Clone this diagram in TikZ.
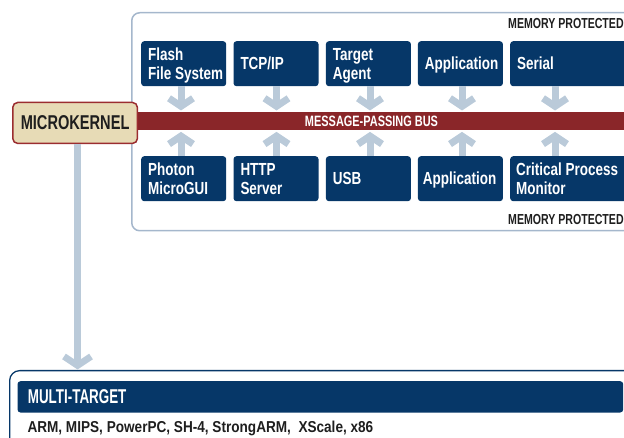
\documentclass[tikz,border=0pt]{standalone}
\usepackage{fontspec}
\usetikzlibrary{arrows.meta}

% Condensed bold sans faces at a few widths
\newfontfamily\cndNarrow{Liberation Sans}[FakeStretch=0.67]
\newfontfamily\cndHead{Liberation Sans}[FakeStretch=0.73]
\newfontfamily\cndBox{Liberation Sans}[FakeStretch=0.77]
\newfontfamily\cndWide{Liberation Sans}[FakeStretch=0.86]

\definecolor{qnavy}{RGB}{6,55,104}
\definecolor{qbus}{RGB}{138,38,41}
\definecolor{qbeige}{RGB}{231,219,182}
\definecolor{qkernelrim}{RGB}{155,45,48}
\definecolor{qflow}{RGB}{186,202,217}
\definecolor{qframe}{RGB}{165,183,204}
\definecolor{qink}{RGB}{30,30,30}

\tikzset{
  svc/.style={rectangle, rounded corners=3pt, fill=qnavy,
    minimum width=85pt, minimum height=45pt, inner sep=0pt,
    anchor=north west},
  svcwide/.style={svc, minimum width=130pt},
  svclabel/.style={text=white,
    font=\cndBox\bfseries\fontsize{17.5}{19.3}\selectfont,
    inner sep=0pt, text height=12.6pt, text depth=0pt, align=left,
    anchor=west},
  svclabeltwo/.style={svclabel, text height=31.9pt},
  flow/.style={draw=qflow, line width=7pt,
    -{Straight Barb[length=8pt,width=24pt]}, shorten >=1.5pt},
  memlabel/.style={font=\cndHead\bfseries\fontsize{14.5}{16}\selectfont,
    text=qink, anchor=base west, inner sep=0pt},
}

\begin{document}
\begin{tikzpicture}[x=1pt,y=-1pt]
\useasboundingbox (0,0) rectangle (624,438);
\clip (0,0) rectangle (624,438);

% memory-protected region
\node[draw=qframe, line width=1.5pt, rounded corners=8pt, anchor=north west,
  minimum width=640pt, minimum height=218pt, inner sep=0pt] (mem) at (131,12) {};
\node[memlabel] (memtop) at (508,29) {MEMORY PROTECTED};
\node[memlabel] (membot) at (508,225) {MEMORY PROTECTED};

% message-passing bus
\node[fill=qbus, anchor=north west, minimum width=600pt, minimum height=18pt,
  inner sep=0pt] (bus) at (136,112) {};
\node[font=\cndHead\bfseries\fontsize{15}{16}\selectfont, text=white,
  anchor=base, inner sep=0pt] (buslabel) at (371.5,126.7) {MESSAGE-PASSING BUS};

% microkernel
\node[draw=qkernelrim, line width=1.5pt, fill=qbeige, rounded corners=5pt,
  anchor=north west, minimum width=124.7pt, minimum height=41pt, inner sep=0pt,
  font=\cndHead\bfseries\fontsize{20}{22}\selectfont, text=qink] (mk) at (12,101.7) {MICROKERNEL};

% services above the bus
\node[svc] (t1) at (141,41) {};
\node[svc] (t2) at (233.3,41) {};
\node[svc] (t3) at (325.7,41) {};
\node[svc] (t4) at (417.7,41) {};
\node[svcwide] (t5) at (510,41) {};
\node[svclabeltwo] (t1l) at ([xshift=7pt]t1.west) {Flash\\File System};
\node[svclabel] (t2l) at ([xshift=7pt]t2.west) {TCP/IP};
\node[svclabeltwo] (t3l) at ([xshift=7pt]t3.west) {Target\\Agent};
\node[svclabel] (t4l) at ([xshift=7pt]t4.west) {Application};
\node[svclabel] (t5l) at ([xshift=7pt]t5.west) {Serial};

% services below the bus
\node[svc] (b1) at (141,156) {};
\node[svc] (b2) at (233.3,156) {};
\node[svc] (b3) at (325.7,156) {};
\node[svc] (b4) at (417.7,156) {};
\node[svcwide] (b5) at (510,156) {};
\node[svclabeltwo] (b1l) at ([xshift=7pt]b1.west) {Photon\\MicroGUI};
\node[svclabeltwo] (b2l) at ([xshift=7pt]b2.west) {HTTP\\Server};
\node[svclabel] (b3l) at ([xshift=7pt]b3.west) {USB};
\node[svclabel] (b4l) at ([xshift=5pt]b4.west) {Application};
\node[svclabeltwo] (b5l) at ([xshift=6pt]b5.west) {Critical Process\\Monitor};

% arrow columns
\coordinate (a1) at (181,0);
\coordinate (a2) at (276.5,0);
\coordinate (a3) at (370,0);
\coordinate (a4) at (462,0);
\coordinate (a5) at (555,0);
\coordinate (ak) at (77.5,0);

\foreach \i in {1,...,5} {
  \draw[flow] (t\i.south -| a\i) -- (bus.north -| a\i);
  \draw[flow] (b\i.north -| a\i) -- (bus.south -| a\i);
}

% multi-target region
\node[draw=qnavy, line width=1.3pt, rounded corners=10pt, anchor=north west,
  minimum width=700pt, minimum height=120pt, inner sep=0pt] (mt) at (9,370) {};
\node[fill=qnavy, rounded corners=3pt, anchor=north west, minimum width=605.7pt,
  minimum height=31.3pt, inner sep=0pt] (mtbar) at (17.3,381) {};
\node[font=\cndNarrow\bfseries\fontsize{20}{22}\selectfont, text=white,
  anchor=base west, inner sep=0pt] (mttitle) at (27.7,403.3) {MULTI-TARGET};
\node[font=\cndWide\bfseries\fontsize{15.8}{17}\selectfont, text=qink,
  anchor=base west, inner sep=0pt] (cpus) at (27.3,432)
  {ARM, MIPS, PowerPC, SH-4, StrongARM,\ \ XScale, x86};

% kernel down to the targets
\draw[flow, line width=6.7pt, -{Straight Barb[length=9pt,width=27pt]}, shorten >=0.5pt]
  (mk.south -| ak) -- (mt.north -| ak);
\end{tikzpicture}
\end{document}
